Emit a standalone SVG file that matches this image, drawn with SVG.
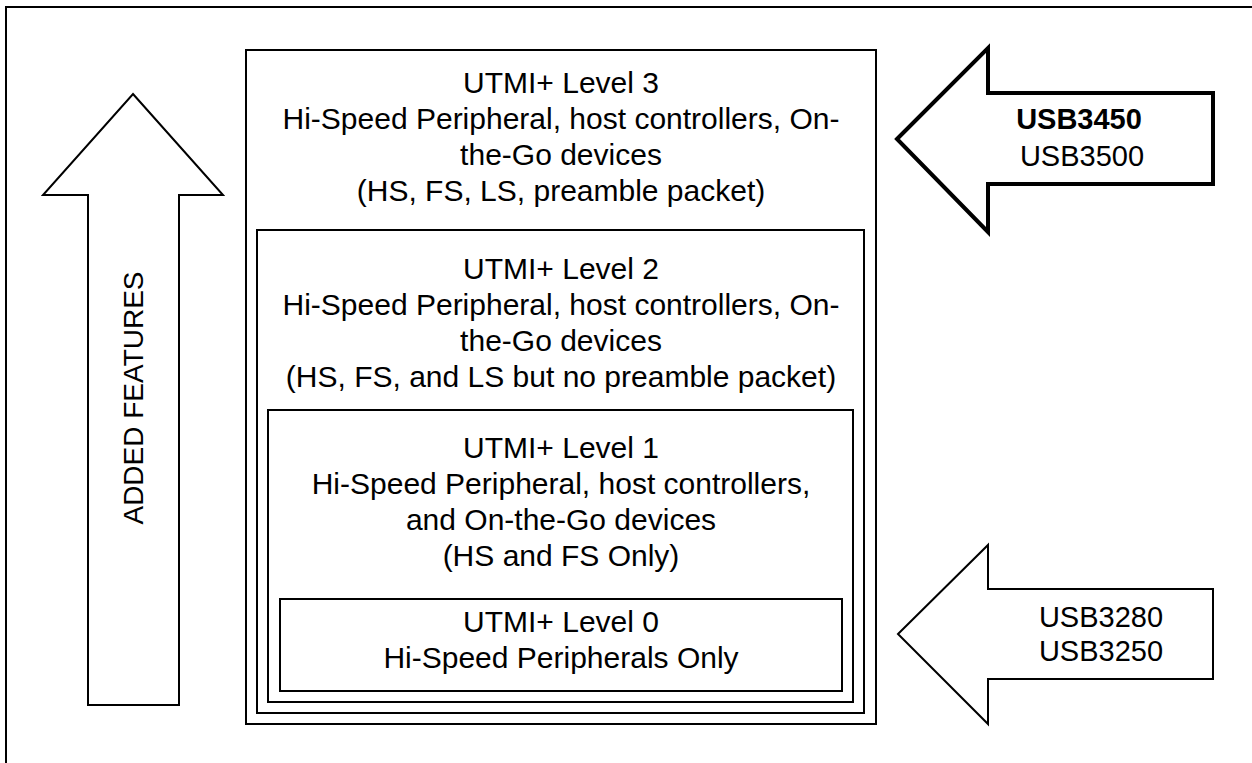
<svg xmlns="http://www.w3.org/2000/svg" width="1252" height="763" viewBox="0 0 1252 763">
<style>
.t{font-family:"Liberation Sans",Arial,sans-serif;font-size:30px;fill:#000;text-anchor:middle}
.s{font-size:29px}
.a{font-size:28px}
.b{font-weight:bold}
.box{fill:#fff;stroke:#000;stroke-width:2}
.arr{fill:#fff;stroke:#000;stroke-width:2;stroke-linejoin:miter}
.thick{stroke-width:4}
</style>
<rect x="0" y="0" width="1252" height="763" fill="#fff"/>
<g id="frame"><rect x="6" y="7" width="1270" height="790" fill="none" stroke="#000" stroke-width="2"/></g>
<g id="added-features">
<polygon class="arr" points="133,94 223,195 179,195 179,705 88,705 88,195 43,195"/>
<text class="t a" transform="translate(143,398) rotate(-90)">ADDED FEATURES</text>
</g>
<g id="level3">
<rect class="box" x="246" y="50" width="630" height="674"/>
<text class="t" x="561" y="93">UTMI+ Level 3</text>
<text class="t" x="561" y="129">Hi-Speed Peripheral, host controllers, On-</text>
<text class="t" x="561" y="165">the-Go devices</text>
<text class="t" x="561" y="201">(HS, FS, LS, preamble packet)</text>
</g>
<g id="level2">
<rect class="box" x="257" y="230" width="607" height="483"/>
<text class="t" x="561" y="279">UTMI+ Level 2</text>
<text class="t" x="561" y="315">Hi-Speed Peripheral, host controllers, On-</text>
<text class="t" x="561" y="351">the-Go devices</text>
<text class="t" x="561" y="387">(HS, FS, and LS but no preamble packet)</text>
</g>
<g id="level1">
<rect class="box" x="268" y="410" width="585" height="292"/>
<text class="t" x="561" y="458">UTMI+ Level 1</text>
<text class="t" x="561" y="494">Hi-Speed Peripheral, host controllers,</text>
<text class="t" x="561" y="530">and On-the-Go devices</text>
<text class="t" x="561" y="566">(HS and FS Only)</text>
</g>
<g id="level0">
<rect class="box" x="280" y="599" width="562" height="92"/>
<text class="t" x="561" y="632">UTMI+ Level 0</text>
<text class="t" x="561" y="668">Hi-Speed Peripherals Only</text>
</g>
<g id="usb3450">
<polygon class="arr thick" points="897,139 988,48 988,93 1213,93 1213,184 988,184 988,232"/>
<text class="t s b" x="1079" y="129">USB3450</text>
<text class="t s" x="1082" y="166">USB3500</text>
</g>
<g id="usb3280">
<polygon class="arr" points="898,634 988,545 988,589 1213,589 1213,679 988,679 988,724"/>
<text class="t s" x="1101" y="627">USB3280</text>
<text class="t s" x="1101" y="661">USB3250</text>
</g>
<g id="connectors"></g>
</svg>
